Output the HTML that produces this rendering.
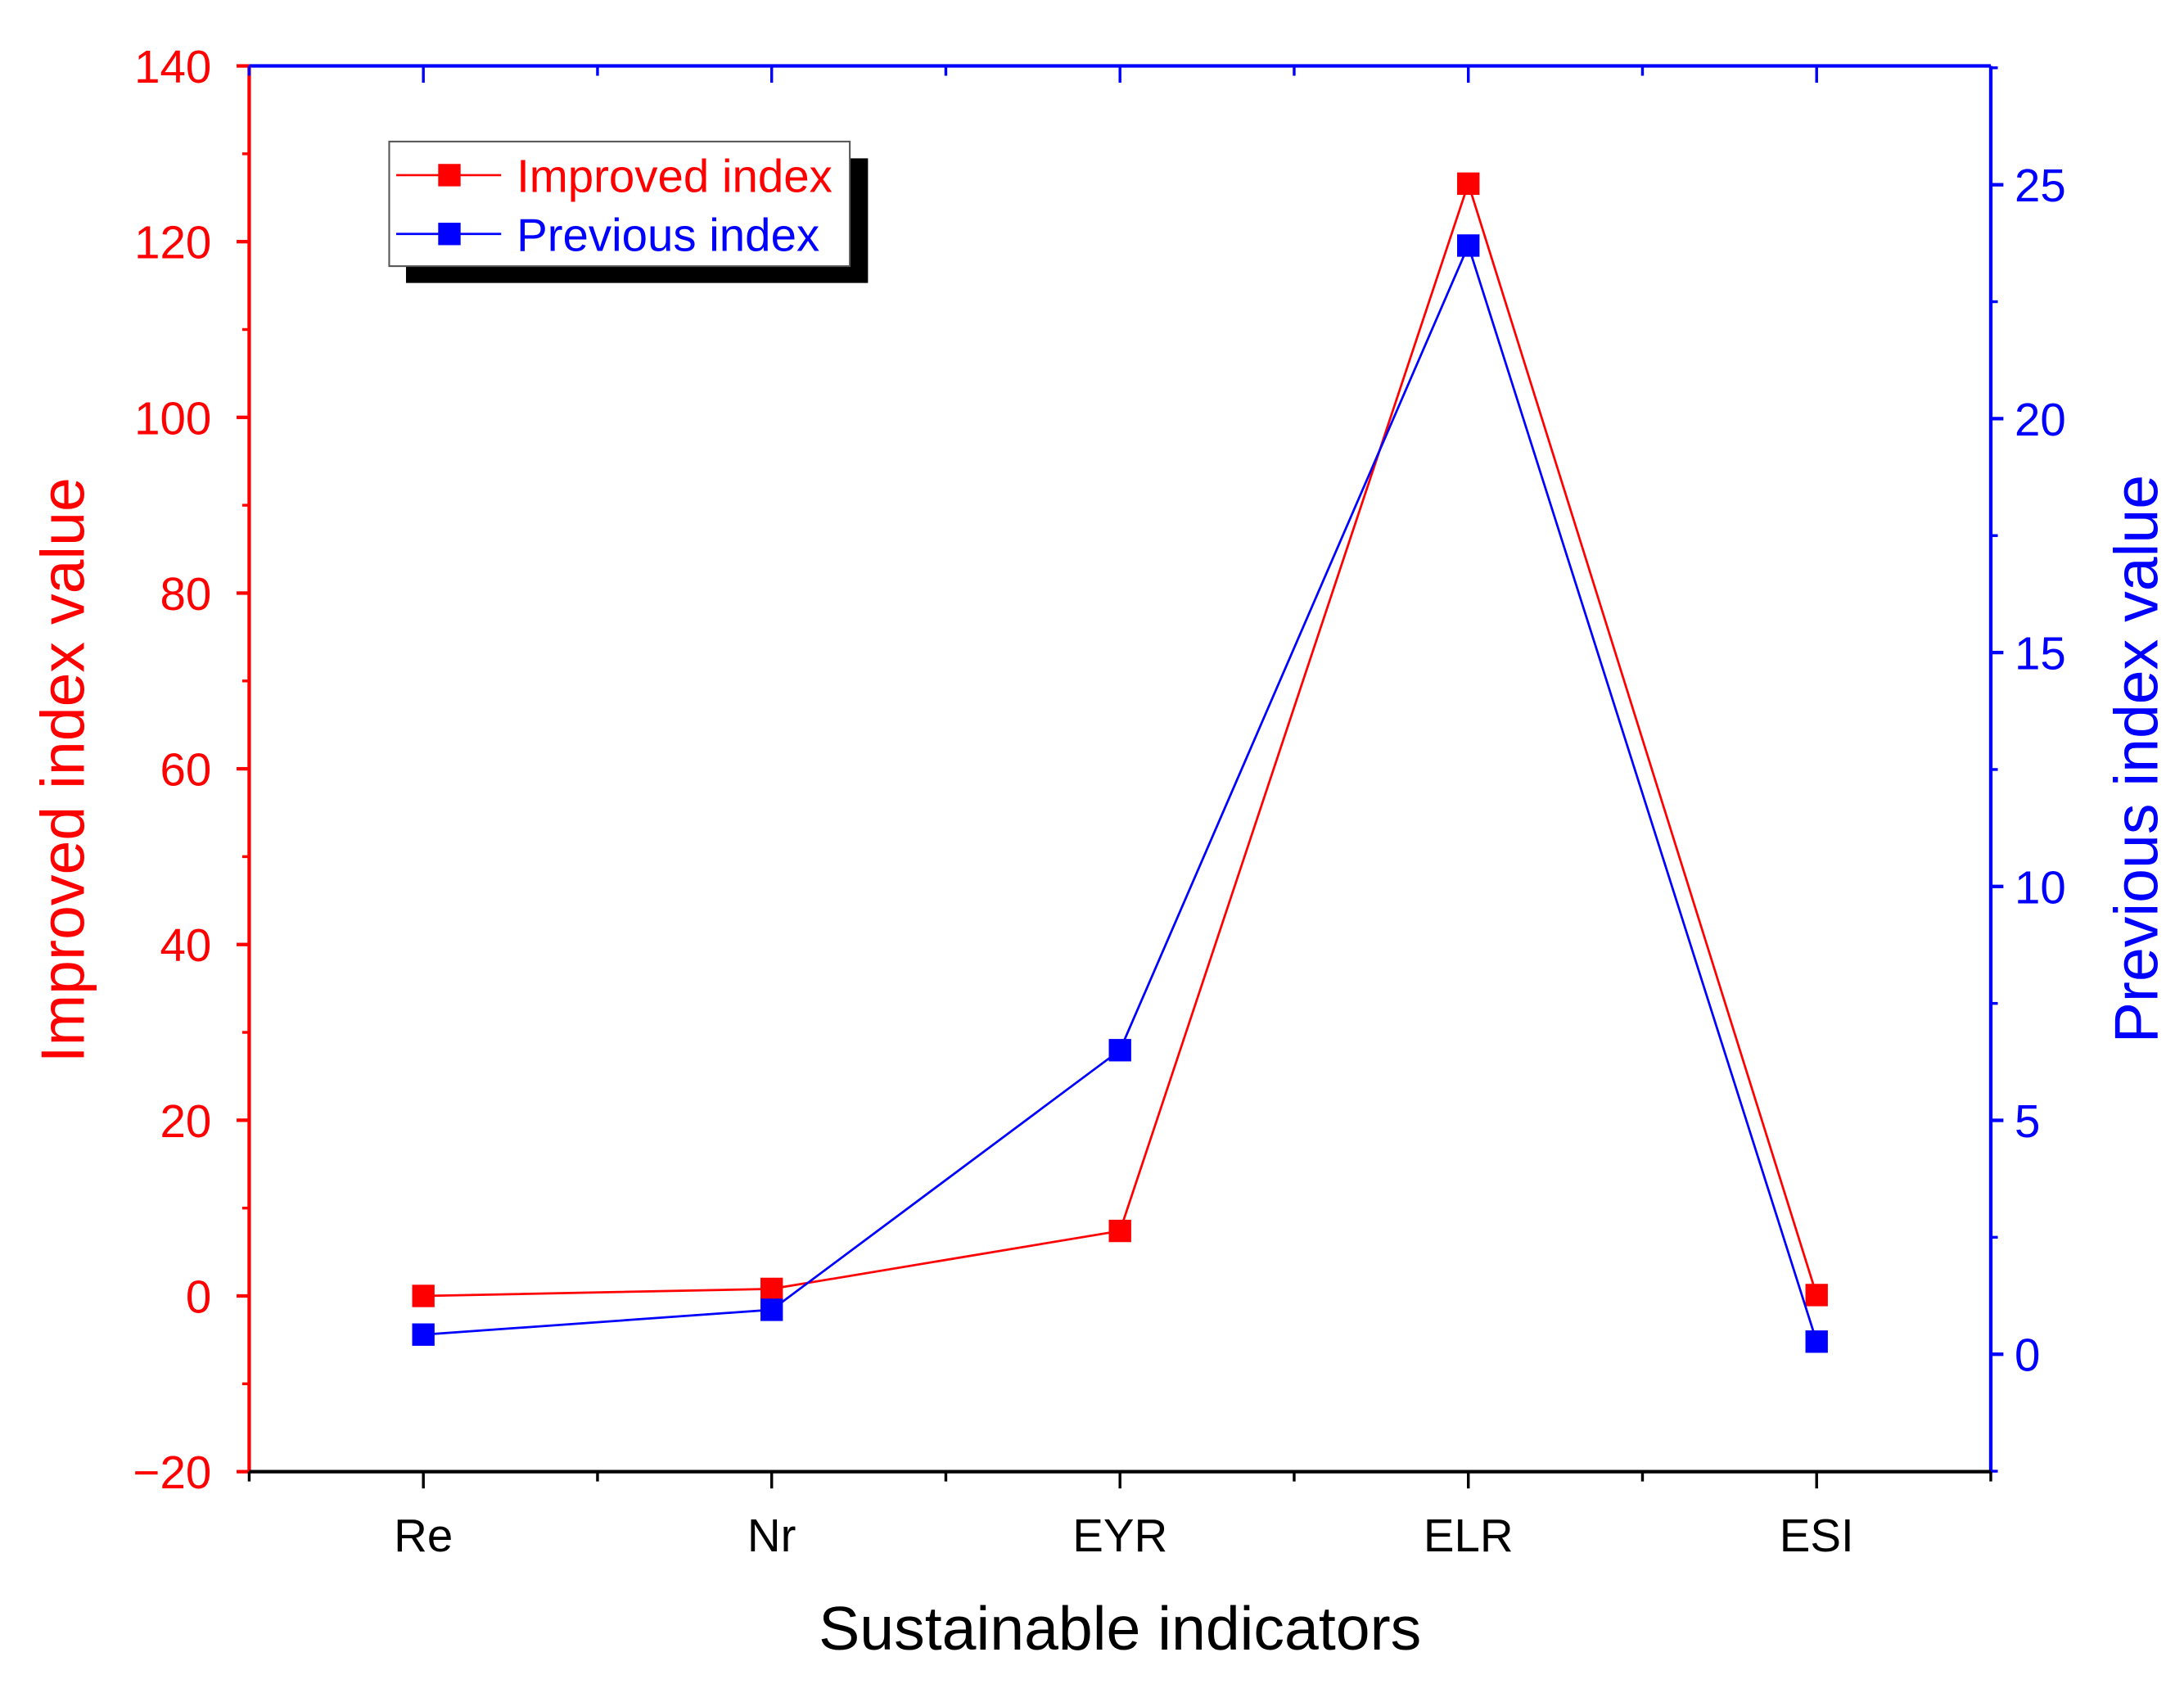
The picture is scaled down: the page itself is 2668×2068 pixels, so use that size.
<!DOCTYPE html>
<html><head><meta charset="utf-8"><style>
html,body{margin:0;padding:0;background:#fff}
svg{display:block}
text{font-family:"Liberation Sans",Arial,sans-serif}
</style></head><body>
<svg id="chart" width="2668" height="2068" viewBox="0 0 1560 1209" xmlns="http://www.w3.org/2000/svg"></svg>
<script>
const categories = ["Re","Nr","EYR","ELR","ESI"];
const improvedValues = [0.0, 0.8, 7.4, 126.6, 0.1];
const previousValues = [0.42, 0.95, 6.5, 23.7, 0.27];
const leftTicks = [-20,0,20,40,60,80,100,120,140];
const rightTicks = [0,5,10,15,20,25];

const L=178,R=1422,T=47,B=1051;
const yL0=-20,yL1=140, yR0=-2.51, yR1=27.54;
const xs=i=>L+(i+0.5)*(R-L)/categories.length;
const yl=v=>B-(v-yL0)/(yL1-yL0)*(B-T);
const yr=v=>B-(v-yR0)/(yR1-yR0)*(B-T);
const svg=document.getElementById('chart');
const NS='http://www.w3.org/2000/svg';
function mk(tag,attrs,parent){const e=document.createElementNS(NS,tag);for(const k in attrs)e.setAttribute(k,attrs[k]);(parent||svg).appendChild(e);return e;}

let e;
e=mk('line',{x1:L,y1:T,x2:R,y2:T,stroke:'#0000ff','stroke-width':2.5});


e=mk('line',{x1:R,y1:T,x2:R,y2:B,stroke:'#0000ff','stroke-width':2.5});


e=mk('line',{x1:L,y1:T,x2:L,y2:B,stroke:'#ff0000','stroke-width':2.5});


e=mk('line',{x1:L-1,y1:B,x2:R+1,y2:B,stroke:'#000','stroke-width':2.5});



leftTicks.forEach((v,i)=>{
  mk('line',{x1:L-9,y1:yl(v),x2:L,y2:yl(v),stroke:'#ff0000','stroke-width':2.5});
  if(i<leftTicks.length-1){const m=v+10;mk('line',{x1:L-5,y1:yl(m),x2:L,y2:yl(m),stroke:'#ff0000','stroke-width':2});}
  const t=mk('text',{x:L-27,y:yl(v)+12,'text-anchor':'end','font-size':33,fill:'#ff0000'});
  t.textContent=(v<0?'\u221220':v);
  
  
});
for(let v=-2.5;v<=27.5;v+=2.5){
  const major=Math.abs(v%5)<1e-9;
  mk('line',{x1:R,y1:yr(v),x2:R+(major?9:5),y2:yr(v),stroke:'#0000ff','stroke-width':major?2.5:2});
}
rightTicks.forEach(v=>{
  const t=mk('text',{x:R+17,y:yr(v)+12,'font-size':33,fill:'#0000ff'});
  t.textContent=v;
  
  
});
for(let i=0;i<=categories.length*2;i++){
  const x=L+i*(R-L)/(categories.length*2);
  const major=i%2===1;
  mk('line',{x1:x,y1:B,x2:x,y2:B+(major?12:7),stroke:'#000','stroke-width':2});
  mk('line',{x1:x,y1:T,x2:x,y2:T+(major?12:7),stroke:'#0000ff','stroke-width':2});
}
categories.forEach((c,i)=>{
  const t=mk('text',{x:xs(i),y:1108,'text-anchor':'middle','font-size':33,fill:'#000'});
  t.textContent=c;
  
  
});

e=mk('text',{x:800,y:1178,'text-anchor':'middle','font-size':44,fill:'#000'});e.textContent='Sustainable indicators';


e=mk('text',{x:0,y:0,'text-anchor':'middle','font-size':44,fill:'#ff0000',transform:'translate(60,550) rotate(-90)'});e.textContent='Improved index value';


e=mk('text',{x:0,y:0,'text-anchor':'middle','font-size':44,fill:'#0000ff',transform:'translate(1541,542) rotate(-90)'});e.textContent='Previous index value';



function series(vals,yf,color,name){
  const pts=vals.map((v,i)=>xs(i)+','+yf(v)).join(' ');
  const pl=mk('polyline',{points:pts,fill:'none',stroke:color,'stroke-width':1.6});
  
  
  vals.forEach((v,i)=>{
    const r=mk('rect',{x:xs(i)-8,y:yf(v)-8,width:16,height:16,fill:color});
    
    
  });
}
series(improvedValues,yl,'#ff0000','improved-index');
series(previousValues,yr,'#0000ff','previous-index');

const lg=mk('g',{});


mk('rect',{x:290,y:113,width:330,height:89,fill:'#000'},lg);
mk('rect',{x:278,y:101,width:329,height:89,fill:'#fff',stroke:'#555','stroke-width':1.2},lg);
[['Improved index','#ff0000',125],['Previous index','#0000ff',167]].forEach(([lab,col,y])=>{
  const g=mk('g',{},lg);
  
  
  mk('line',{x1:283,y1:y,x2:358,y2:y,stroke:col,'stroke-width':1.6},g);
  mk('rect',{x:313,y:y-8,width:16,height:16,fill:col},g);
  const t=mk('text',{x:369,y:y+12,'font-size':33,fill:col},g);t.textContent=lab;
});
</script>
</body></html>
